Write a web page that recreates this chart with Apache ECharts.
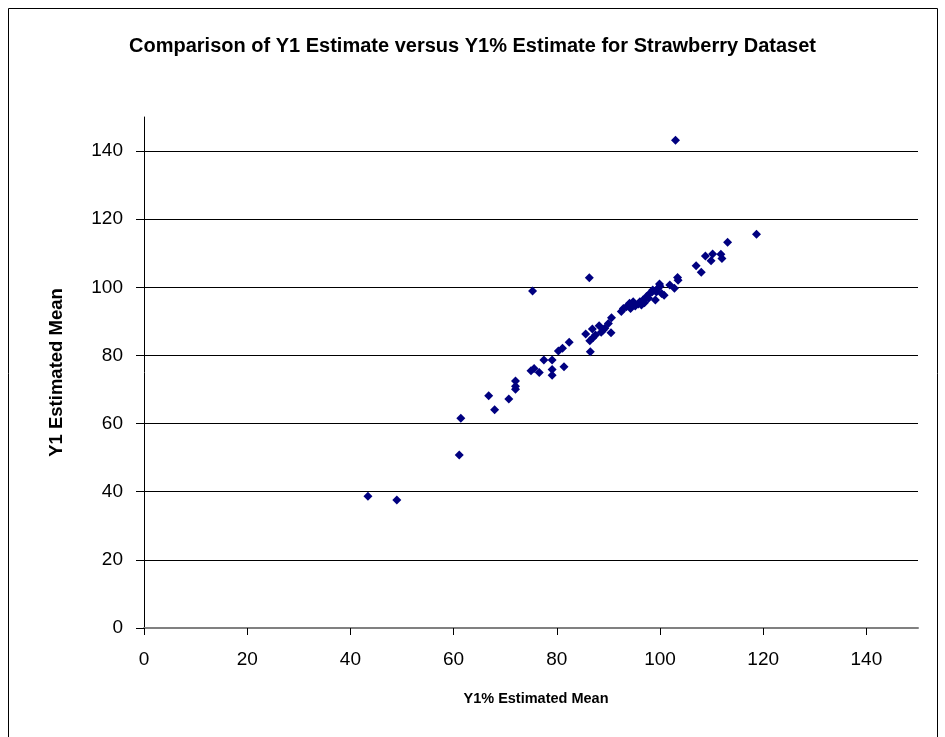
<!DOCTYPE html>
<html>
<head>
<meta charset="utf-8">
<script src="https://cdn.jsdelivr.net/npm/echarts@6/dist/echarts.min.js"></script>
<style>
html,body{margin:0;padding:0;background:#fff;}
#chart{width:945px;height:737px;}
</style>
</head>
<body>
<div id="chart"></div>
<script>
// Y1% Estimated Mean (x) values
const xValues = [43.4, 49.0, 61.1, 61.4, 66.8, 67.95, 70.7, 72.0, 72.0, 72.0,
  75.0, 75.6, 76.6, 75.3, 77.5, 79.1, 79.1, 79.1, 81.4, 80.3,
  81.1, 82.4, 86.5, 86.4, 85.6, 86.9, 86.3, 88.2, 88.6, 89.3,
  90.0, 90.6, 90.5, 92.5, 92.9, 93.5, 94.1, 94.8, 95.8, 96.1,
  96.4, 96.7, 97.4, 98.0, 98.5, 98.6, 99.1, 99.6, 99.9, 100.3,
  100.8, 101.9, 102.8, 103.5, 103.4, 103.0, 107.0, 108.0, 108.8, 110.2,
  109.9, 111.8, 112.0, 113.1, 118.7, 87.5, 89.0, 94.3, 95.2, 97.0,
  97.8, 99.3, 100.0, 87.0];
// Y1 Estimated Mean (y) values
const yValues = [38.7, 37.6, 50.8, 61.6, 68.2, 64.1, 67.2, 70.1, 71.0, 72.5,
  75.5, 76.2, 75.0, 98.9, 78.7, 78.7, 75.9, 74.2, 76.7, 81.3,
  82.1, 83.9, 81.1, 84.3, 86.3, 87.8, 102.8, 88.7, 86.8, 88.0,
  89.4, 91.1, 86.7, 92.9, 93.8, 94.3, 95.3, 95.8, 95.1, 95.8,
  94.8, 96.3, 97.3, 98.2, 98.7, 99.2, 96.3, 99.7, 101.0, 98.2,
  97.7, 100.7, 99.7, 102.1, 102.9, 143.2, 106.3, 104.4, 109.2, 109.8,
  107.8, 109.7, 108.5, 113.2, 115.6, 86.0, 87.5, 93.8, 94.5, 95.5,
  96.8, 98.6, 100.3, 85.2];
const xTicks = [0, 20, 40, 60, 80, 100, 120, 140];
const yTicks = [0, 20, 40, 60, 80, 100, 120, 140];

const points = xValues.map((x, i) => [x, yValues[i]]);
const font = "Arial, 'Liberation Sans', sans-serif";

const chart = echarts.init(document.getElementById('chart'));
chart.setOption({
  animation: false,
  backgroundColor: '#fff',
  title: {
    text: 'Comparison of Y1 Estimate versus Y1% Estimate for Strawberry Dataset',
    left: 'center',
    top: 31,
    textStyle: {fontFamily: font, fontSize: 20, fontWeight: 'bold', color: '#000'}
  },
  graphic: [{
    type: 'rect',
    shape: {x: 8.5, y: 8.5, width: 929, height: 740},
    style: {fill: 'none', stroke: '#000', lineWidth: 1},
    silent: true
  }],
  grid: {left: 144, right: 27, top: 117, bottom: 109},
  xAxis: {
    type: 'value', min: 0, max: 150, interval: 20,
    name: 'Y1% Estimated Mean', nameLocation: 'middle', nameGap: 63,
    nameTextStyle: {fontFamily: font, fontSize: 14.5, fontWeight: 'bold', color: '#000', padding: [0, 0, 0, 10]},
    axisLine: {show: true, lineStyle: {color: '#808080', width: 2}},
    axisTick: {show: true, length: 7, customValues: xTicks, lineStyle: {color: '#000'}},
    axisLabel: {fontFamily: font, fontSize: 19, color: '#000', margin: 22, customValues: xTicks},
    splitLine: {show: false}
  },
  yAxis: {
    type: 'value', min: 0, max: 150, interval: 20,
    name: 'Y1 Estimated Mean', nameLocation: 'middle', nameGap: 78,
    nameTextStyle: {fontFamily: font, fontSize: 18.5, fontWeight: 'bold', color: '#000'},
    axisLine: {show: true, lineStyle: {color: '#000', width: 1}},
    axisTick: {show: true, length: 8, customValues: yTicks, lineStyle: {color: '#000'}},
    axisLabel: {fontFamily: font, fontSize: 19, color: '#000', margin: 21, customValues: yTicks},
    splitLine: {show: false}
  },
  series: [{
    type: 'scatter',
    data: points,
    symbol: 'diamond',
    symbolSize: 9,
    itemStyle: {color: '#000080', opacity: 1},
    z: 3,
    markLine: {
      silent: true,
      symbol: 'none',
      label: {show: false},
      lineStyle: {color: '#000', width: 1, type: 'solid'},
      z: 1,
      data: yTicks.filter(v => v > 0).map(v => ({yAxis: v}))
    }
  }]
});
</script>
</body>
</html>
